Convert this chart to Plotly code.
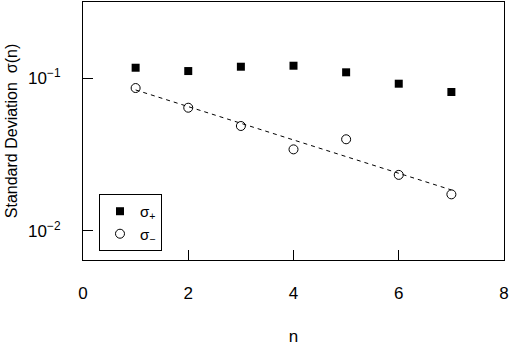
import numpy as np
import plotly.graph_objects as go

n_values = [1, 2, 3, 4, 5, 6, 7]
sigma_plus = [0.1168, 0.1111, 0.1186, 0.1204, 0.1090, 0.0918, 0.0810]
sigma_minus = [0.0860, 0.0639, 0.0485, 0.0341, 0.0397, 0.0232, 0.0173]
x_ticks = [0, 2, 4, 6, 8]
y_tickvals = [0.01, 0.1]
y_ticktext = ["10<sup>−2</sup>", "10<sup>−1</sup>"]

# exponential fit (linear in log10) to sigma_minus
coef = np.polyfit(n_values, np.log10(sigma_minus), 1)
fit_n = [n_values[0], n_values[-1]]
fit_vals = [10 ** np.polyval(coef, v) for v in fit_n]

FONT = "Liberation Sans, Arial, sans-serif"

fig = go.Figure()
fig.add_trace(go.Scatter(
    x=n_values, y=sigma_plus, mode="markers", name="σ<sub>+</sub>",
    marker=dict(symbol="square", size=8, color="black", line=dict(width=0)),
))
fig.add_trace(go.Scatter(
    x=n_values, y=sigma_minus, mode="markers", name="σ<sub>−</sub>",
    marker=dict(symbol="circle-open", size=9, color="black", line=dict(width=1, color="black")),
))
fig.add_trace(go.Scatter(
    x=fit_n, y=fit_vals, mode="lines", showlegend=False,
    line=dict(color="black", width=1, dash="4px,4px"),
))

fig.update_layout(
    width=510, height=348,
    margin=dict(l=83, r=6, t=2, b=88, autoexpand=False),
    paper_bgcolor="white", plot_bgcolor="white",
    font=dict(family=FONT, size=17, color="black"),
    showlegend=True,
    legend=dict(
        x=0.038, y=0.035, xanchor="left", yanchor="bottom",
        bordercolor="black", borderwidth=1, bgcolor="white",
        font=dict(size=15), itemwidth=30, tracegroupgap=0,
    ),
    xaxis=dict(
        range=[0, 8], tickvals=x_ticks, ticks="inside", ticklen=10,
        tickwidth=1, tickcolor="black", showline=True, linecolor="black",
        linewidth=1, mirror=True, showgrid=False, zeroline=False,
        ticklabelstandoff=18, automargin=False,
        tickfont=dict(size=17),
        title=dict(text="n", font=dict(size=17), standoff=27),
    ),
    yaxis=dict(
        type="log", range=[-2.192, -0.502], tickvals=y_tickvals,
        ticktext=y_ticktext, ticks="inside", ticklen=10, tickwidth=1,
        tickcolor="black", showline=True, linecolor="black", linewidth=1,
        mirror=True, showgrid=False, zeroline=False,
        ticklabelstandoff=18, automargin=False,
        tickfont=dict(size=17),
        title=dict(text="Standard Deviation  σ(n)", font=dict(size=16), standoff=6),
    ),
)

fig.write_html(
    "out.html",
    config={"displayModeBar": False},
    post_script="document.body.style.margin='0px';document.body.style.overflow='hidden';",
)
